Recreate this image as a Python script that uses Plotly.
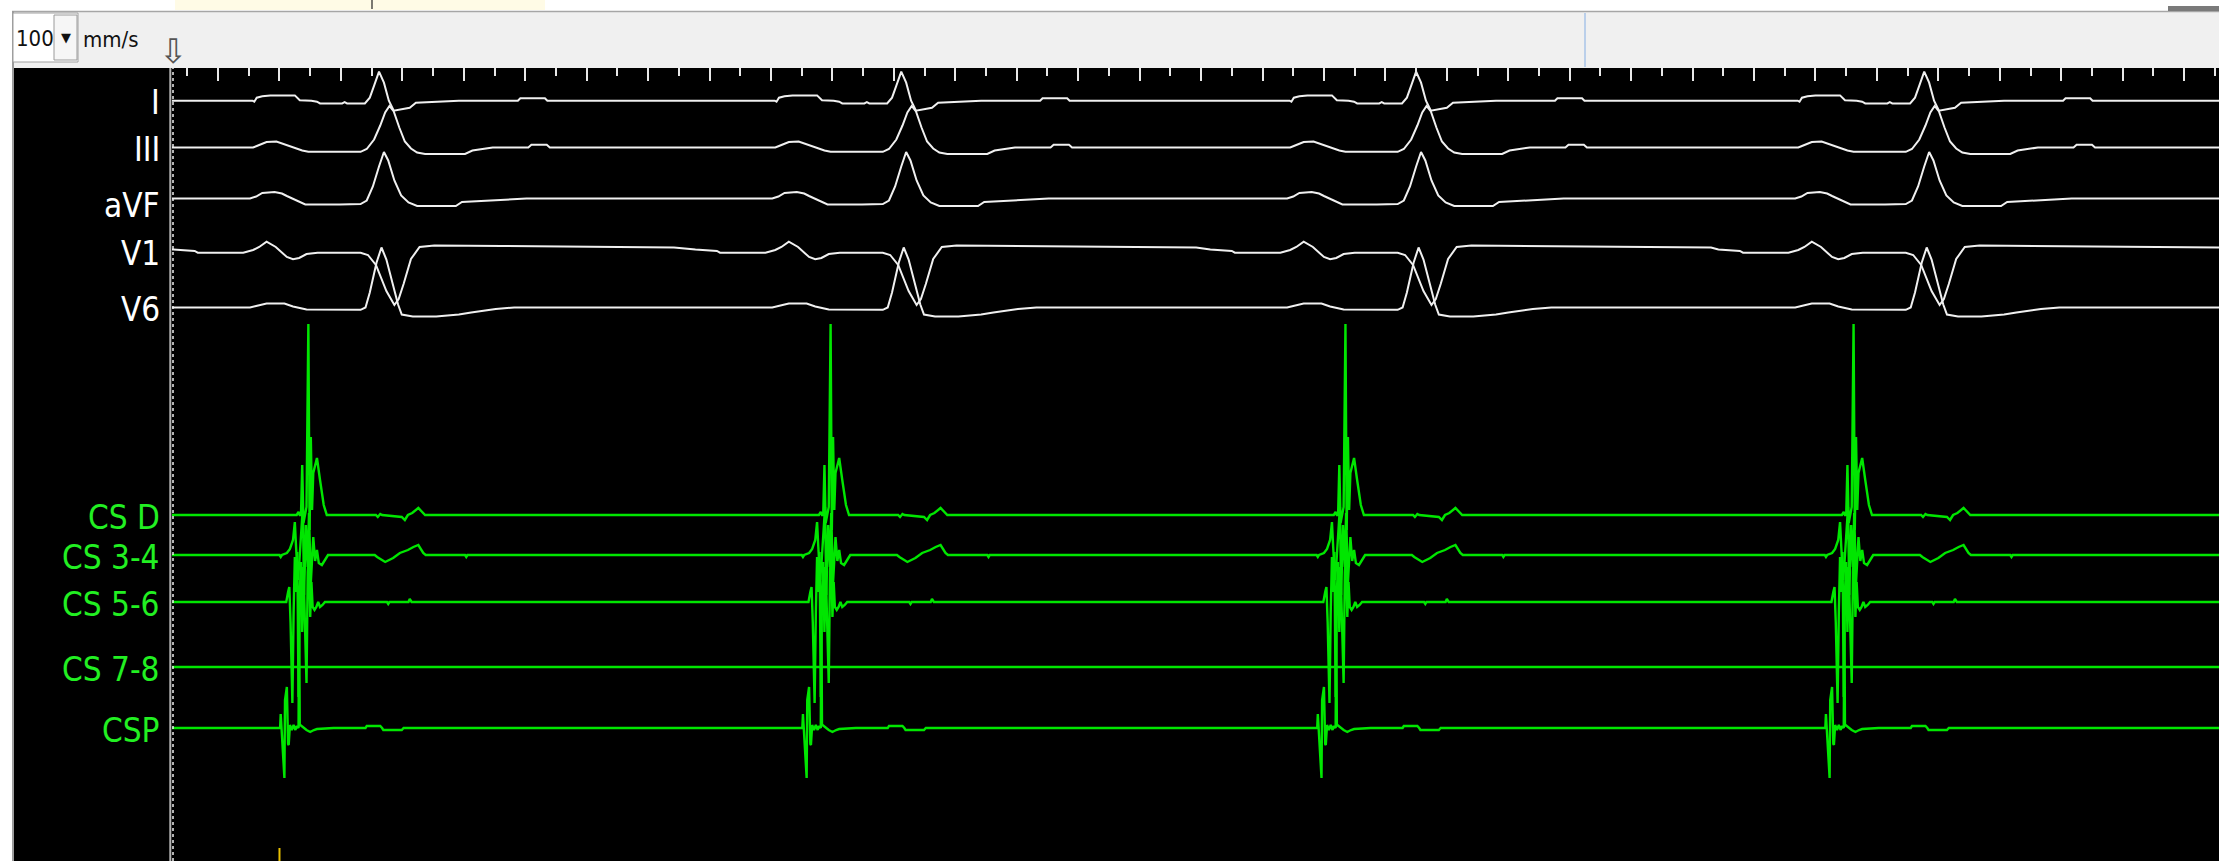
import plotly.graph_objects as go

# ---------------- data ----------------
# beat reference times (peak of lead I), ms from recording origin
BEAT_TIMES_MS = [362, 1212, 2050, 2877]
EVENT_MARKERS_MS = [200]

CHANNELS = ["I", "III", "aVF", "V1", "V6", "CS D", "CS 3-4", "CS 5-6", "CS 7-8", "CSP"]

# per-channel beat templates: offset (ms, relative to beat) and amplitude (display px, up positive)
T_I = [-335, -206, -203, -199, -190, -177, -137, -129, -110, -101, -96, -60, -56, -52, -23, -15, -8, 0, 8, 16, 24, 35, 50, 60, 115, 130, 226, 230, 270, 274, 480]
A_I = [0, 0, -1, 3, 4.5, 5.3, 5.3, 0.5, 0, -1, -2.7, -2.7, -1.5, -2.7, -2.7, 3, 15, 29, 18, 0, -10, -9, -7, -2, -0.7, 0, 0, 2.5, 2.5, 0, 0]

T_III = [-335, -205, -195, -183, -167, -158, -148, -140, -125, -115, -30, -20, -8, 2, 10, 17, 24, 33, 42, 52, 62, 75, 140, 152, 175, 185, 243, 248, 273, 278, 480]
A_III = [0, 0, 2.5, 5.5, 6, 4, 1.5, 0, -3, -4.3, -4.3, -1.5, 8, 22, 35, 41.5, 36, 20, 6, -1, -5, -6.5, -6.5, -3, -1, 0, 0, 2.7, 2.7, 0, 0]

T_AVF = [-335, -210, -200, -190, -170, -158, -150, -135, -120, -64, -30, -20, -10, 0, 8, 15, 25, 36, 48, 62, 125, 135, 165, 200, 240, 480]
A_AVF = [0, 0, 2, 5.5, 6.5, 5, 2.5, -2, -6, -6, -5.5, -2, 12, 32, 46.5, 38, 18, 3, -4, -7.5, -7.5, -3.5, -2.5, -1.5, 0, 0]

T_V1 = [-335, -300, -295, -221, -205, -195, -183, -168, -150, -140, -130, -118, -100, -30, -18, -5, 12, 25, 32, 40, 52, 66, 90, 200, 480]
A_V1 = [1.5, 0, -1.7, -1.7, 1, 4, 9.3, 4, -6, -8.3, -7, -3, -1.7, -1.7, -4, -14, -40, -54, -48, -33, -8, 4, 5.5, 5, 3.5]

T_V6 = [-335, -210, -200, -183, -154, -140, -118, -30, -22, -15, -4, 4, 12, 23, 31, 37, 55, 93, 130, 150, 190, 220, 480]
A_V6 = [0, 0, 1.5, 4, 4, 1, -2, -2.3, 0, 15, 45, 60, 48, 22, 3, -7, -9, -9, -7, -5, -1.5, 0, 0]

T_CSD = [-335, -140, -134, -131, -129, -127, -125, -123, -118, -115, -113, -111, -109, -107, -101, -96, -90, -85, -5, -2, 2, 5, 37, 42, 47, 54, 64, 75, 480]
A_CSD = [0, 0, 0, 3, 0, 0, 50, -8, 8, 191, -15, 78, 5, 42, 57, 35, 10, 0, 0, -2, 1, 0, -2, -5, 0, 2, 7, 0, 0]

T_CS34 = [-335, -162, -160, -158, -150, -145, -140, -137, -135, -132, -130, -127, -124, -122, -119, -116, -114, -111, -107, -104, -101, -98, -93, -86, -83, -7, -3, 10, 23, 34, 47, 56, 64, 72, 76, 140, 142, 144, 480]
A_CS34 = [0, 0, -2, 0, 2, 6, 15, 33, 8, -25, -10, 22, 48, -40, 30, -12, 42, -28, 18, -6, 5, -8, -10, -3, 0, 0, -2, -7, -3, 2, 5, 8, 10, 2, 0, 0, -2, 0, 0]

T_CS56 = [-335, -155, -151, -148, -146, -144, -141, -139, -137, -135, -133, -131, -129, -127, -125, -123, -121, -118, -116, -114, -112, -110, -108, -105, -102, -99, -96, -92, -88, 13, 15, 17, 48, 50, 53, 480]
A_CS56 = [0, 0, 0, 10, 15, -20, -101, -10, 45, 10, 50, -95, 10, 40, -30, 35, -20, -81, 30, 50, -15, 20, -5, -8, -5, 0, -5, -3, 0, 0, -2, 0, 0, 3, 0, 0]

T_CS78 = [-335, 480]
A_CS78 = [0, 0]

T_CSP = [-335, -161, -160, -157, -154, -153, -150, -148, -147, -145, -142, -139, -136, -134, -131, -130, -129, -128, -118, -112, -106, -101, -74, -22, -20, 2, 5, 7, 37, 40, 480]
A_CSP = [0, 0, 14, -16, -50, 28, 41, -16, -17, 3, -2, 3, -2, 2, 0, 122, 2, 3, -2, -4, -2, -1, 0, 0, 2, 2, 0, -2, -2, 0, 0]

TEMPLATES = {
    "I": (T_I, A_I), "III": (T_III, A_III), "aVF": (T_AVF, A_AVF),
    "V1": (T_V1, A_V1), "V6": (T_V6, A_V6), "CS D": (T_CSD, A_CSD),
    "CS 3-4": (T_CS34, A_CS34), "CS 5-6": (T_CS56, A_CS56),
    "CS 7-8": (T_CS78, A_CS78), "CSP": (T_CSP, A_CSP),
}

# ---------------- layout / positions / styles ----------------
W, H = 2231, 861
PLOT_L, PLOT_R, PLOT_T, PLOT_B = 172, 2219, 68, 861
T0_PX = 156.6          # pixel column of t = 0
PX_PER_MS = 0.6144     # 100 mm/s sweep
t_left = (PLOT_L - T0_PX) / PX_PER_MS
t_right = (PLOT_R - T0_PX) / PX_PER_MS

BASELINE_PX = {"I": 100.7, "III": 147.5, "aVF": 198.5, "V1": 251, "V6": 307.5,
               "CS D": 515, "CS 3-4": 555, "CS 5-6": 602, "CS 7-8": 667, "CSP": 728}
LABEL_DY = {"aVF": 4.5}
ECG_COLOR = "#f0f0f0"
CS_COLOR = "#00e600"
LABEL_FONT = "DejaVu Sans Condensed, DejaVu Sans, sans-serif"


def ypos(py):
    return -(py - PLOT_T)


def px_x(px):
    return (px - PLOT_L) / (PLOT_R - PLOT_L)


def px_y(py):
    return (PLOT_B - py) / (PLOT_B - PLOT_T)


fig = go.Figure()

for ch in CHANNELS:
    offs, amps = TEMPLATES[ch]
    base = ypos(BASELINE_PX[ch])
    xs = [t_left]
    ys = [base + amps[0]]
    for bt in BEAT_TIMES_MS:
        for o, a in zip(offs, amps):
            xs.append(bt + o)
            ys.append(base + a)
    xs.append(t_right)
    ys.append(base + amps[-1])
    is_cs = ch.startswith("CS")
    fig.add_trace(go.Scatter(
        x=xs, y=ys, mode="lines", name=ch, hoverinfo="skip",
        line=dict(color=CS_COLOR if is_cs else ECG_COLOR, width=2.4 if is_cs else 2),
    ))

# event markers at the bottom (yellow ticks)
for t in EVENT_MARKERS_MS:
    fig.add_trace(go.Scatter(
        x=[t, t], y=[ypos(848), ypos(PLOT_B)], mode="lines", hoverinfo="skip",
        line=dict(color="#e8c000", width=2), showlegend=False,
    ))

shapes = []
# black label column
shapes.append(dict(type="rect", xref="paper", yref="paper", x0=px_x(14), x1=px_x(PLOT_L), y0=0, y1=1,
                   fillcolor="black", line=dict(width=0), layer="below"))
# toolbar
shapes.append(dict(type="rect", xref="paper", yref="paper", x0=px_x(12), x1=px_x(2219), y0=px_y(68), y1=px_y(11),
                   fillcolor="#f0f0f0", line=dict(width=0)))
shapes.append(dict(type="line", xref="paper", yref="paper", x0=px_x(12), x1=px_x(2219), y0=px_y(11.5), y1=px_y(11.5),
                   line=dict(color="#a6a6a6", width=1.5)))
# left frame
shapes.append(dict(type="line", xref="paper", yref="paper", x0=px_x(13), x1=px_x(13), y0=0, y1=px_y(11),
                   line=dict(color="#9c9c9c", width=2)))
# top strip items
shapes.append(dict(type="rect", xref="paper", yref="paper", x0=px_x(175), x1=px_x(545), y0=px_y(10), y1=px_y(0),
                   fillcolor="#fffbe6", line=dict(width=0)))
shapes.append(dict(type="line", xref="paper", yref="paper", x0=px_x(372), x1=px_x(372), y0=px_y(9), y1=px_y(0),
                   line=dict(color="#222", width=1.2)))
shapes.append(dict(type="rect", xref="paper", yref="paper", x0=px_x(2168), x1=px_x(2219), y0=px_y(11), y1=px_y(6),
                   fillcolor="#7a7a7a", line=dict(width=0)))
# toolbar separator
shapes.append(dict(type="line", xref="paper", yref="paper", x0=px_x(1585), x1=px_x(1585), y0=px_y(67), y1=px_y(13),
                   line=dict(color="#a9c4e8", width=1.5)))
# speed combo box
shapes.append(dict(type="rect", xref="paper", yref="paper", x0=px_x(13), x1=px_x(78), y0=px_y(62), y1=px_y(13),
                   fillcolor="white", line=dict(color="#a0a0a0", width=1)))
shapes.append(dict(type="rect", xref="paper", yref="paper", x0=px_x(54), x1=px_x(77), y0=px_y(60), y1=px_y(15),
                   fillcolor="#f6f6f6", line=dict(color="#9a9a9a", width=1)))
# cursor line at left edge of traces
shapes.append(dict(type="line", xref="paper", yref="paper", x0=px_x(170.3), x1=px_x(170.3), y0=0, y1=1,
                   line=dict(color="#b4b4b4", width=2)))
shapes.append(dict(type="line", xref="paper", yref="paper", x0=px_x(173), x1=px_x(173), y0=0, y1=px_y(64),
                   line=dict(color="#eeeeee", width=1.5, dash="dot")))

annotations = []
for ch in CHANNELS:
    is_cs = ch.startswith("CS")
    annotations.append(dict(
        text=ch, xref="paper", x=px_x(161), xanchor="right",
        yref="y", y=ypos(BASELINE_PX[ch] + 2 + LABEL_DY.get(ch, 0)), yanchor="middle",
        showarrow=False, borderpad=0,
        font=dict(family=LABEL_FONT, size=33, color="#22f022" if is_cs else "#ffffff"),
    ))

annotations.append(dict(text="100", xref="paper", x=px_x(15), xanchor="left", yref="paper", y=px_y(38),
                        yanchor="middle", showarrow=False, borderpad=0,
                        font=dict(family=LABEL_FONT, size=22, color="#111")))
annotations.append(dict(text="▼", xref="paper", x=px_x(65.5), xanchor="center", yref="paper", y=px_y(37),
                        yanchor="middle", showarrow=False, borderpad=0,
                        font=dict(family="DejaVu Sans", size=13, color="#111")))
annotations.append(dict(text="mm/s", xref="paper", x=px_x(82), xanchor="left", yref="paper", y=px_y(39),
                        yanchor="middle", showarrow=False, borderpad=0,
                        font=dict(family=LABEL_FONT, size=22, color="#111")))
annotations.append(dict(text="⇩", xref="paper", x=px_x(173), xanchor="center", yref="paper", y=px_y(51),
                        yanchor="middle", showarrow=False, borderpad=0,
                        font=dict(family="DejaVu Sans", size=34, color="#555")))

fig.update_layout(
    width=W, height=H,
    margin=dict(l=PLOT_L, r=W - PLOT_R, t=PLOT_T, b=H - PLOT_B, pad=0),
    paper_bgcolor="white", plot_bgcolor="black",
    showlegend=False,
    shapes=shapes, annotations=annotations,
    xaxis=dict(range=[t_left, t_right], side="top", showgrid=False, zeroline=False, showline=False,
               showticklabels=False, ticks="inside", tick0=0, dtick=100, ticklen=13, tickwidth=1.5,
               tickcolor="#e8e8e8",
               minor=dict(ticks="inside", tick0=0, dtick=50, ticklen=8, tickwidth=1.5, tickcolor="#e8e8e8",
                          showgrid=False)),
    yaxis=dict(range=[ypos(PLOT_B), 0], showgrid=False, zeroline=False, showline=False,
               showticklabels=False, ticks=""),
)

fig.write_html(
    "out.html",
    config={"displayModeBar": False},
    post_script="document.body.style.margin='0px';document.body.style.padding='0px';"
                "document.documentElement.style.overflow='hidden';",
)
